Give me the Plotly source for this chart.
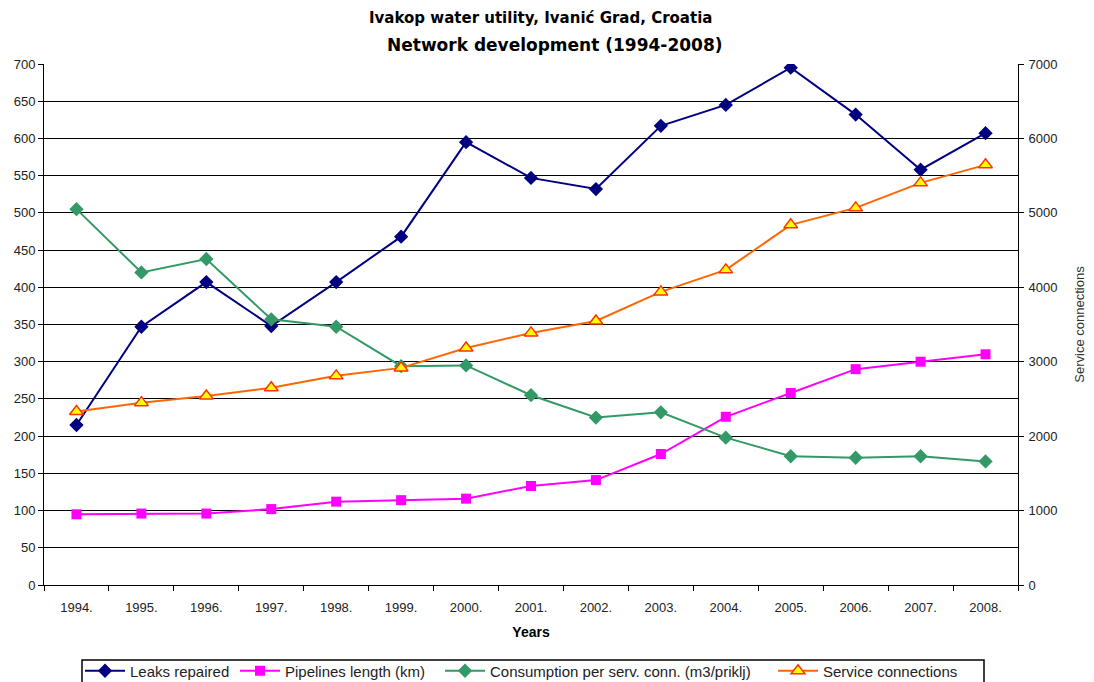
import plotly.graph_objects as go

years = ["1994.", "1995.", "1996.", "1997.", "1998.", "1999.", "2000.", "2001.",
         "2002.", "2003.", "2004.", "2005.", "2006.", "2007.", "2008."]
leaks_repaired = [215, 347, 407, 348, 407, 468, 595, 547, 532, 617, 645, 695, 632, 558, 607]
pipelines_length = [95, 96, 96, 102, 112, 114, 116, 133, 141, 176, 226, 258, 290, 300, 310]
consumption = [505, 420, 438, 357, 347, 294, 295, 255, 225, 232, 198, 173, 171, 173, 166]
service_connections = [2330, 2450, 2540, 2650, 2810, 2917, 3185, 3387, 3548, 3938, 4234, 4839, 5067, 5403, 5645]

font = "Liberation Sans, Arial, sans-serif"
OFF = 8  # page body margin
W, H = 1094 - OFF, 682 - OFF
ML, MR, MT, MB = 44 - OFF, 76, 64 - OFF, 97
PW, PH = W - ML - MR, H - MT - MB


def px_x(px):
    return (px - OFF - ML) / PW


def px_y(py):
    return (OFF + MT + PH - py) / PH


fig = go.Figure()
fig.add_trace(go.Scatter(x=years, y=leaks_repaired, name="Leaks repaired", mode="lines+markers",
                         legend="legend",
                         line=dict(color="#000080", width=2),
                         marker=dict(symbol="diamond", size=11, color="#000080")))
fig.add_trace(go.Scatter(x=years, y=pipelines_length, name="Pipelines length (km)", mode="lines+markers",
                         legend="legend2",
                         line=dict(color="#FF00FF", width=2),
                         marker=dict(symbol="square", size=10, color="#FF00FF")))
fig.add_trace(go.Scatter(x=years, y=consumption, name="Consumption per serv. conn. (m3/priklj)", mode="lines+markers",
                         legend="legend3",
                         line=dict(color="#339966", width=2),
                         marker=dict(symbol="diamond", size=11, color="#339966")))
fig.add_trace(go.Scatter(x=years, y=service_connections, name="Service connections", mode="lines+markers",
                         yaxis="y2", legend="legend4",
                         line=dict(color="#FF6600", width=2),
                         marker=dict(symbol="triangle-up", size=12, color="#FFFF00",
                                     line=dict(color="#FF3300", width=1.5))))

leg_common = dict(orientation="h", xanchor="left", yanchor="middle", y=px_y(671),
                  bgcolor="rgba(0,0,0,0)", borderwidth=0, font=dict(size=15, color="#222", family=font),
                  itemwidth=40)

fig.update_layout(
    width=W, height=H,
    margin=dict(l=ML, r=MR, t=MT, b=MB, autoexpand=False),
    paper_bgcolor="white", plot_bgcolor="white",
    font=dict(family=font, size=13, color="#222"),
    showlegend=True,
    legend=dict(x=px_x(80), **leg_common),
    legend2=dict(x=px_x(235), **leg_common),
    legend3=dict(x=px_x(440), **leg_common),
    legend4=dict(x=px_x(773), **leg_common),
    xaxis=dict(type="category", showline=True, linecolor="black", linewidth=1,
               ticks="outside", tickson="boundaries", ticklen=5, tickcolor="black",
               ticklabelstandoff=10,
               showgrid=False, tickfont=dict(size=13, color="#222"), automargin=False,
               title=dict(text="<b>Years</b>", font=dict(size=14, color="#000"), standoff=13),
               range=[-0.5, 14.5]),
    yaxis=dict(range=[0, 700], dtick=50, showline=True, linecolor="black", linewidth=1,
               ticks="outside", ticklen=5, tickcolor="black", automargin=False,
               showgrid=True, gridcolor="black", gridwidth=1.2, zeroline=False,
               tickfont=dict(size=13, color="#222")),
    yaxis2=dict(range=[0, 7000], dtick=1000, overlaying="y", side="right",
                showline=True, linecolor="black", linewidth=1, automargin=False,
                ticks="outside", ticklen=5, tickcolor="black", showgrid=False, zeroline=False,
                ticklabelstandoff=2,
                tickfont=dict(size=13, color="#222"),
                title=dict(text="Service connections", font=dict(size=13, color="#333"), standoff=18)),
    shapes=[dict(type="rect", xref="paper", yref="paper",
                 x0=px_x(82), x1=px_x(984), y0=px_y(660), y1=px_y(700),
                 line=dict(color="black", width=1.5), fillcolor="rgba(0,0,0,0)", layer="above")],
)

fig.add_annotation(text="<b>Ivakop water utility, Ivanić Grad, Croatia</b>", xref="paper", yref="paper",
                   x=px_x(540), y=px_y(18), yanchor="middle", showarrow=False,
                   font=dict(size=15, family="DejaVu Sans, sans-serif", color="#000"))
fig.add_annotation(text="<b>Network development (1994-2008)</b>", xref="paper", yref="paper",
                   x=px_x(554), y=px_y(45), yanchor="middle", showarrow=False,
                   font=dict(size=17, family="DejaVu Sans, sans-serif", color="#000"))

fig.write_html("out.html")
